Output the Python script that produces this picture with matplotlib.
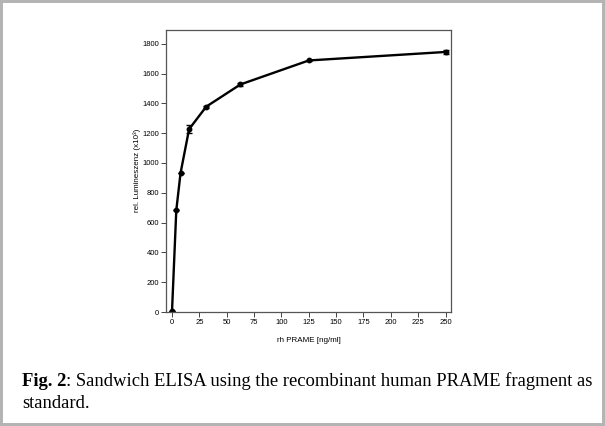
import matplotlib
matplotlib.use("Agg")
import matplotlib.pyplot as plt
from matplotlib.patches import Rectangle

# standard curve, rh PRAME concentration vs. luminescence
conc = [0, 3.9, 7.8, 15.6, 31.25, 62.5, 125, 250]
lum = [8, 683, 933, 1227, 1378, 1527, 1688, 1745]
err = [0, 0, 0, 25, 6, 12, 5, 12]

x_ticks = [0, 25, 50, 75, 100, 125, 150, 175, 200, 225, 250]
y_ticks = [0, 200, 400, 600, 800, 1000, 1200, 1400, 1600, 1800]

plt.rcParams['font.family'] = ['Liberation Sans', 'DejaVu Sans']

fig = plt.figure(figsize=(6.05, 4.26), dpi=100)
ax = fig.add_axes([0.2744, 0.2676, 0.4711, 0.6629])

ax.errorbar(conc, lum, yerr=err, color="black", lw=1.7, marker="o", ms=3.2,
            capsize=2.5, elinewidth=1.0, capthick=1.0)

ax.set_xlim(-5.5, 255)
ax.set_ylim(0, 1895)
ax.set_xticks(x_ticks)
ax.set_yticks(y_ticks)
ax.tick_params(labelsize=5.5, length=3.5, width=0.7, color="#444444", pad=1.5)
for s in ax.spines.values():
    s.set_color("#555555")
    s.set_linewidth(0.9)

ax.set_xlabel("rh PRAME [ng/ml]", fontsize=5.8, labelpad=8)
ax.set_ylabel("rel. Lumineszenz (x10³)", fontsize=5.8, labelpad=1)

# caption below the chart
serif = ['Liberation Serif', 'DejaVu Serif']
t1 = fig.text(22 / 605, 1 - 386 / 426, "Fig. 2", fontsize=13.4, fontweight="bold",
              family=serif, va="baseline", ha="left")
fig.canvas.draw()
bb = t1.get_window_extent()
fig.text(bb.x1 / 605, 1 - 386 / 426,
         ": Sandwich ELISA using the recombinant human PRAME fragment as",
         fontsize=13.4, family=serif, va="baseline", ha="left")
fig.text(22 / 605, 1 - 408 / 426, "standard.", fontsize=13.4, family=serif,
         va="baseline", ha="left")

# grey frame round the figure
fig.add_artist(Rectangle((0, 0), 1, 1, transform=fig.transFigure, fill=False,
                         edgecolor="#b4b4b4", lw=4.3))

plt.savefig("out.png", dpi=100)
plt.close()
